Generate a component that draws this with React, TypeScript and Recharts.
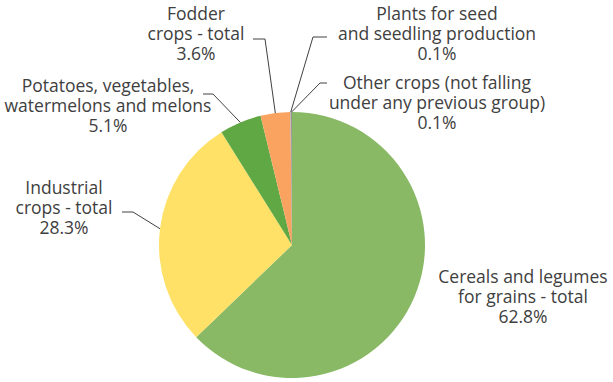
import { PieChart, Pie, Cell } from 'recharts';

const CATEGORIES = [
  'Cereals and legumes|for grains - total',
  'Industrial|crops - total',
  'Potatoes, vegetables,|watermelons and melons',
  'Fodder|crops - total',
  'Plants for seed|and seedling production',
  'Other crops (not falling|under any previous group)',
];
const SHARES = [62.8, 28.3, 5.1, 3.6, 0.1, 0.1];

const COLORS = ['#89B965', '#FEE166', '#5FA844', '#FAA260', '#A5A5A5', '#7F7F7F'];

// label placement, offsets from the pie centre: text centre + first line, leader elbow and end
const LABEL_POS = [
  { tx: 231, ty: 31, leader: null },
  { tx: -228, ty: -58, leader: { ex: -159, ey: -33, hx: -170 } },
  { tx: -184, ty: -160, leader: { ex: -79, ey: -151, hx: -89 } },
  { tx: -96, ty: -232, leader: { ex: -27, ey: -206, hx: -39 } },
  { tx: 145, ty: -232, leader: { ex: 21, ey: -208, hx: 35 } },
  { tx: 145, ty: -163, leader: { ex: 28, ey: -162, hx: 35 } },
];

const data = CATEGORIES.map((name, i) => ({ name, value: SHARES[i] }));

const RADIAN = Math.PI / 180;
const TEXT_COLOR = '#404040';
const LINE_H = 19.8;

function renderLabel(props: any) {
  const { cx, cy, midAngle, outerRadius, index, name, value } = props;
  const pos = LABEL_POS[index];
  const lines = [...String(name).split('|'), `${value.toFixed(1)}%`];
  let leader = null;
  if (pos.leader) {
    const sx = cx + outerRadius * Math.cos(-midAngle * RADIAN);
    const sy = cy + outerRadius * Math.sin(-midAngle * RADIAN);
    const { ex, ey, hx } = pos.leader;
    leader = (
      <polyline
        points={`${sx},${sy} ${cx + ex},${cy + ey} ${cx + hx},${cy + ey}`}
        fill="none"
        stroke="#404040"
        strokeWidth={1}
      />
    );
  }
  return (
    <g>
      {leader}
      {lines.map((line, i) => (
        <text
          key={i}
          x={cx + pos.tx}
          y={cy + pos.ty + i * LINE_H}
          textAnchor="middle"
          dominantBaseline="central"
          fill={TEXT_COLOR}
          fontSize={17.5}
          fontFamily="'Segoe UI', 'Open Sans', sans-serif"
        >
          {line}
        </text>
      ))}
    </g>
  );
}

export default function App() {
  return (
    <div style={{ position: 'absolute', left: 0, top: 0, background: '#fff' }}>
      <PieChart width={613} height={382} margin={{ top: 0, right: 0, bottom: 0, left: 0 }}>
        <Pie
          data={data}
          dataKey="value"
          nameKey="name"
          cx={292}
          cy={245}
          outerRadius={133}
          startAngle={90}
          endAngle={-270}
          stroke="none"
          labelLine={false}
          label={renderLabel}
          isAnimationActive={false}
        >
          {data.map((entry, index) => (
            <Cell key={`cell-${index}`} fill={COLORS[index % COLORS.length]} />
          ))}
        </Pie>
      </PieChart>
    </div>
  );
}
